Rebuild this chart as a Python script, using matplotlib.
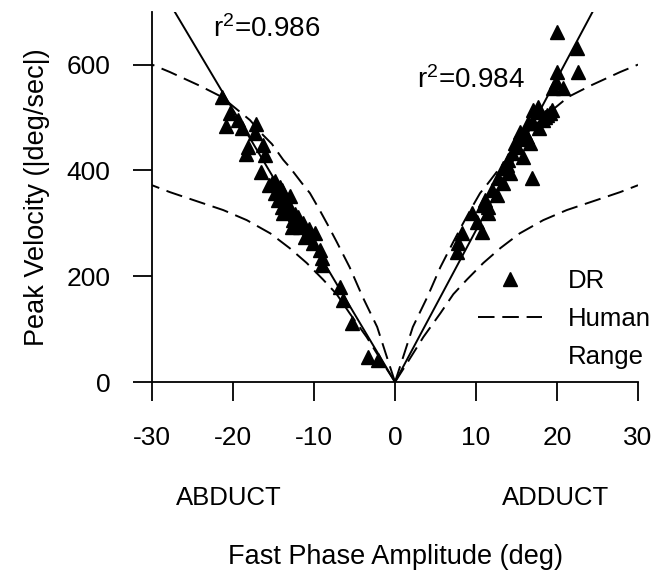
import matplotlib
matplotlib.use("Agg")
import matplotlib.pyplot as plt
from matplotlib.lines import Line2D

plt.rcParams['font.family'] = ['Liberation Sans', 'DejaVu Sans']
plt.rcParams['mathtext.fontset'] = 'custom'
plt.rcParams['mathtext.rm'] = 'Liberation Sans'
plt.rcParams['mathtext.it'] = 'Liberation Sans'
plt.rcParams['axes.unicode_minus'] = False

# DR fast phases, abducting (negative amplitude)
abduct_amp = [-21.4, -20.4, -20.9, -19.4, -18.9, -17.2, -17.3, -18.1, -18.4, -16.3,
              -16.0, -16.5, -14.8, -14.0, -13.0, -15.2, -14.8, -14.4, -14.0, -13.3,
              -13.0, -12.6, -12.7, -12.0, -11.7, -11.1, -9.9, -10.1, -9.3, -9.0,
              -9.0, -6.8, -6.4, -5.3, -3.3, -2.1, -15.5, -14.2, -13.6, -12.4,
              -13.8, -11.4, -10.6]
abduct_vel = [539, 508, 484, 495, 480, 488, 471, 444, 431, 448,
              429, 397, 380, 363, 352, 376, 357, 344, 331, 340,
              325, 306, 293, 312, 293, 274, 282, 263, 250, 234,
              221, 180, 155, 112, 47, 42, 372, 368, 345, 318,
              320, 300, 290]

# DR fast phases, adducting (positive amplitude)
adduct_amp = [20.0, 22.5, 22.6, 20.0, 19.9, 20.7, 19.5, 17.7, 17.0, 19.4,
              18.8, 17.5, 19.1, 18.3, 16.4, 15.4, 16.3, 16.7, 14.8, 14.4,
              15.8, 16.9, 13.3, 14.2, 12.7, 13.3, 12.0, 12.6, 11.1, 11.5,
              10.9, 11.5, 9.5, 10.1, 10.7, 8.3, 7.8, 7.7, 14.0, 15.0,
              15.5, 16.0, 17.0, 17.8, 18.5, 13.8]
adduct_vel = [662, 631, 586, 586, 567, 556, 556, 520, 514, 514,
              505, 510, 508, 495, 490, 473, 463, 452, 452, 433,
              425, 386, 405, 395, 386, 376, 363, 354, 344, 331,
              335, 319, 319, 302, 284, 282, 263, 246, 420, 445,
              460, 470, 490, 480, 500, 410]

# regression lines (end points)
abduct_fit_x = [0, -27.2]
abduct_fit_y = [0, 700]
adduct_fit_x = [0, 24.4]
adduct_fit_y = [0, 700]

# human range bounds (amplitude magnitude)
human_hi_amp = [0, 1.0, 2.2, 4.0, 5.6, 7.2, 8.3, 9.3, 10.5, 11.5, 13.0, 13.8, 15.2,
                16.3, 17.9, 21.4, 24.1, 27.8, 30]
human_hi = [0, 47, 104, 161, 217, 265, 297, 325, 357, 376, 406, 420, 450,
            467, 495, 539, 560, 586, 600]
human_lo_amp = [0, 1.5, 3.5, 5.6, 7.2, 8.9, 10.9, 13.0, 15.4, 18.3, 21.2, 24.9, 27.8, 30]
human_lo = [0, 36, 85, 130, 166, 194, 225, 253, 281, 306, 325, 344, 359, 372]

fig = plt.figure(figsize=(6.66, 5.73), dpi=100)
ax = fig.add_axes([0.2282, 0.3333, 0.7298, 0.6463])

dash = (0, (8.5, 4))
for sgn in (-1, 1):
    ax.plot([sgn * a for a in human_hi_amp], human_hi, color='black', lw=1.4, linestyle=dash)
    ax.plot([sgn * a for a in human_lo_amp], human_lo, color='black', lw=1.4, linestyle=dash)

ax.plot(abduct_fit_x, abduct_fit_y, color='black', lw=1.4)
ax.plot(adduct_fit_x, adduct_fit_y, color='black', lw=1.4)

ax.plot(abduct_amp, abduct_vel, '^', color='black', ms=9.5, clip_on=False)
ax.plot(adduct_amp, adduct_vel, '^', color='black', ms=9.5, clip_on=False)

ax.set_xlim(-30, 30)
ax.set_ylim(0, 700)
ax.set_xticks([-30, -20, -10, 0, 10, 20, 30])
ax.set_yticks([0, 200, 400, 600])
for s in ('top', 'right'):
    ax.spines[s].set_visible(False)
for s in ('left', 'bottom'):
    ax.spines[s].set_linewidth(1.3)
ax.tick_params(axis='both', direction='out', length=14, width=1.3, labelsize=19)
ax.tick_params(axis='x', pad=18)
ax.tick_params(axis='y', pad=16)

ax.text(-22.5, 668, 'r$^2$=0.986', fontsize=20, va='center', ha='left')
ax.text(2.7, 571, 'r$^2$=0.984', fontsize=20, va='center', ha='left')

ax.text(-20.5, -219, 'ABDUCT', fontsize=18.5, ha='center', va='center')
ax.text(19.8, -219, 'ADDUCT', fontsize=18.5, ha='center', va='center')
ax.set_xlabel('Fast Phase Amplitude (deg)', fontsize=19.5)
ax.xaxis.set_label_coords(0.5, -0.437)
ax.set_ylabel('Peak Velocity (|deg/sec|)', fontsize=19.5, labelpad=12)

handles = [Line2D([], [], marker='^', color='black', linestyle='none', ms=9.5),
           Line2D([], [], color='black', lw=1.4, linestyle=dash),
           Line2D([], [], linestyle='none')]
ax.legend(handles, ['DR', 'Human', 'Range'], loc='upper left',
          bbox_to_anchor=(0.671, 0.305), frameon=False, fontsize=18.5,
          handlelength=2.5, handletextpad=1.0, labelspacing=0.55,
          borderpad=0, borderaxespad=0)

fig.savefig('out.png', dpi=100)
